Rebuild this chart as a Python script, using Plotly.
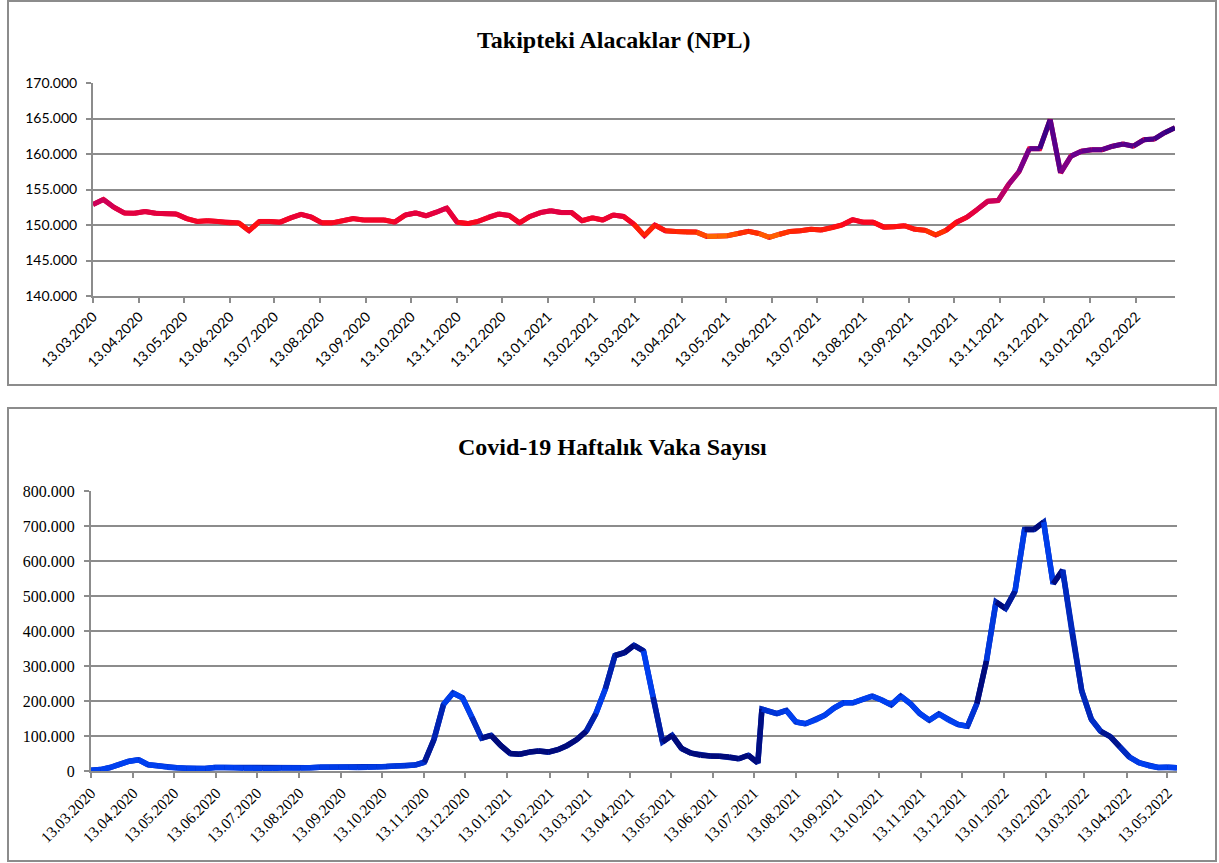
import pandas as pd
import plotly.graph_objects as go

# ---------------- DATA ----------------
# Takipteki Alacaklar (NPL), weekly from 13.03.2020
npl_values = [
    152900, 153600, 152500, 151700, 151650, 151900, 151650, 151600, 151550, 150900,
    150500, 150600, 150500, 150300, 150300, 149200, 150500, 150500, 150400, 151000,
    151500, 151100, 150300, 150300, 150600, 150900, 150700, 150700, 150700, 150400,
    151400, 151700, 151300, 151800, 152400, 150400, 150200,
    150500, 151100, 151550, 151350, 150300, 151200, 151750, 152000, 151750, 151750,
    150600, 151000, 150700, 151400, 151200, 150100, 148500, 150000, 149200, 149100,
    149000, 149000, 148400, 148400, 148500, 148800, 149100, 148800, 148250, 148700,
    149100, 149200, 149400, 149300, 149600,
    150000, 150750, 150400, 150400, 149700, 149750, 149900, 149400, 149250, 148600,
    149250, 150400, 151100, 152200, 153350, 153450, 155700, 157500, 160750, 160750,
    164850, 157350, 159700, 160400, 160600, 160600, 161100, 161400, 161100, 162000,
    162100, 163000, 163700,
]
npl_start = "2020-03-13"

# Covid-19 weekly cases
covid_part1_start = "2020-03-13"   # weekly
covid_part1 = [
    2000, 4000, 10000, 19000, 28000, 32000, 18000, 15000, 11000, 9000,
    8000, 7000, 7000, 10000, 10000, 9500, 8000, 8000, 7000, 7000,
    8500, 8500, 8500, 9500, 11000, 11000, 11000, 11000, 10000, 10500,
    11500, 13000, 14000, 15000, 17000, 25000,
    90000, 190000, 223000, 209000, 154000, 94000, 102000, 73000, 50000, 48000,
    54000, 57000, 54000, 61000, 73000, 90000, 114000, 164000, 235000, 330000,
    338000, 359000, 343000, 211000, 83000, 102000, 64000, 51000, 45000, 43000,
    42000, 40000, 35000, 45000, 23000,
]
covid_extra_date = "2021-07-19"
covid_extra = [177000]
covid_part2_start = "2021-07-23"   # weekly
covid_part2 = [
    172000, 164000, 173000, 140000, 135000, 145000, 159000, 180000,
    195000, 195000, 205000, 214000, 203000, 189000, 214000, 193000, 164000, 145000,
    163000, 146000, 133000, 128000,
    193000, 315000, 483000, 464000, 514000, 690000, 690000, 711000, 535000, 574000,
    392000, 229000, 148000, 113000, 98000, 69000, 40000, 24000, 15000, 10000,
    11000, 9000,
]

top_title = "Takipteki Alacaklar (NPL)"
bottom_title = "Covid-19 Haftalık Vaka Sayısı"

# ---------------- STYLE (gradient stops) ----------------
# NPL line: colour by value
npl_stops = [(148200, "#ff7a00"), (149000, "#ff2a00"), (150000, "#ff0a14"),
             (151500, "#e6003c"), (153500, "#c8005c"), (156500, "#9c007c"),
             (160000, "#6a008e"), (162500, "#420088"), (165000, "#14007a")]
# Covid line: gradient along the path (cumulative vertical travel, in cases)
B, D = "#0040f0", "#000a7a"
covid_stops = [(0, B), (60000, B), (130000, D), (270000, B), (350000, B), (420000, D),
               (530000, D), (620000, B), (780000, D), (870000, B), (1070000, D),
               (1250000, D), (1370000, B), (1650000, B), (1770000, D), (1900000, B),
               (2010000, D), (2150000, B), (2255000, D), (2350000, B), (2460000, D),
               (2655000, B), (2820000, D), (2907000, B), (2960000, D), (3030000, B)]

# ---------------- BUILD ----------------
npl_dates = list(pd.date_range(npl_start, periods=len(npl_values), freq="7D"))
covid_dates = (list(pd.date_range(covid_part1_start, periods=len(covid_part1), freq="7D"))
               + [pd.Timestamp(covid_extra_date)]
               + list(pd.date_range(covid_part2_start, periods=len(covid_part2), freq="7D")))
covid_values = covid_part1 + covid_extra + covid_part2

top_ticks = [pd.Timestamp(npl_start) + pd.DateOffset(months=k) for k in range(24)]
bot_ticks = [pd.Timestamp(covid_part1_start) + pd.DateOffset(months=k) for k in range(27)]


def hex2rgb(h):
    h = h.lstrip("#")
    return tuple(int(h[i:i + 2], 16) for i in (0, 2, 4))


def mix(c1, c2, t):
    a, b = hex2rgb(c1), hex2rgb(c2)
    return "rgb(%d,%d,%d)" % tuple(round(a[i] + (b[i] - a[i]) * t) for i in range(3))


def scale_color(stops, v):
    if v <= stops[0][0]:
        return mix(stops[0][1], stops[0][1], 0)
    for (v0, c0), (v1, c1) in zip(stops[:-1], stops[1:]):
        if v <= v1:
            return mix(c0, c1, (v - v0) / (v1 - v0))
    return mix(stops[-1][1], stops[-1][1], 0)


fig = go.Figure()

# top: base line then coloured segments
fig.add_trace(go.Scatter(x=npl_dates, y=npl_values, mode="lines",
                         line=dict(color="#e6003c", width=5), hoverinfo="skip",
                         showlegend=False, xaxis="x", yaxis="y"))
for i in range(len(npl_values) - 1):
    c = scale_color(npl_stops, (npl_values[i] + npl_values[i + 1]) / 2)
    fig.add_trace(go.Scatter(x=npl_dates[i:i + 2], y=npl_values[i:i + 2], mode="lines",
                             line=dict(color=c, width=5), hoverinfo="skip",
                             showlegend=False, xaxis="x", yaxis="y"))

# bottom
fig.add_trace(go.Scatter(x=covid_dates, y=covid_values, mode="lines",
                         line=dict(color="#0028b8", width=5.5), hoverinfo="skip",
                         showlegend=False, xaxis="x2", yaxis="y2"))
s = 0.0
for i in range(len(covid_values) - 1):
    ds = abs(covid_values[i + 1] - covid_values[i])
    c = scale_color(covid_stops, s + ds / 2)
    s += ds
    fig.add_trace(go.Scatter(x=covid_dates[i:i + 2], y=covid_values[i:i + 2], mode="lines",
                             line=dict(color=c, width=5.5), hoverinfo="skip",
                             showlegend=False, xaxis="x2", yaxis="y2"))

W, H = 1219, 863
GRID = "#8c8c8c"


def px_x(p):
    return p / W


def px_y(p):
    return 1 - p / H


sans = dict(family="Lato, Liberation Sans, sans-serif", size=14, color="black")
serif = dict(family="Liberation Serif, Times New Roman, serif", size=15.5, color="black")

common_x = dict(type="date", showline=True, linecolor=GRID, linewidth=2, ticks="outside",
                ticklen=5, tickcolor=GRID, tickwidth=2, showgrid=False, tickangle=-45,
                zeroline=False, automargin=False)
common_y = dict(showline=True, linecolor=GRID, linewidth=2, ticks="outside", ticklen=5,
                tickcolor=GRID, tickwidth=2, showgrid=True, gridcolor=GRID, gridwidth=2,
                zeroline=False, tickformat=",d", ticklabelstandoff=6, automargin=False)

title_font = dict(family="Liberation Serif, Times New Roman, serif", size=24, color="black")

fig.update_layout(
    width=W, height=H, margin=dict(l=0, r=0, t=0, b=0, pad=0, autoexpand=False),
    paper_bgcolor="white", plot_bgcolor="white", separators=",.", showlegend=False,
    xaxis=dict(common_x, domain=[px_x(93), px_x(1175)], anchor="y",
               range=[npl_dates[0], npl_dates[-1]], tickvals=top_ticks,
               ticktext=[t.strftime("%d.%m.%Y") for t in top_ticks], tickfont=sans),
    yaxis=dict(common_y, domain=[px_y(296), px_y(83)], anchor="x",
               range=[140000, 170000], dtick=5000, tickfont=sans),
    xaxis2=dict(common_x, domain=[px_x(91), px_x(1177)], anchor="y2",
                range=[covid_dates[0], covid_dates[-1]], tickvals=bot_ticks,
                ticktext=[t.strftime("%d.%m.%Y") for t in bot_ticks], tickfont=serif),
    yaxis2=dict(common_y, domain=[px_y(771), px_y(491)], anchor="x2",
                range=[0, 800000], dtick=100000, tickfont=dict(serif, size=16)),
    shapes=[
        dict(type="rect", xref="paper", yref="paper", x0=px_x(8), x1=px_x(1216),
             y0=px_y(385), y1=px_y(1), line=dict(color=GRID, width=2)),
        dict(type="rect", xref="paper", yref="paper", x0=px_x(8), x1=px_x(1216),
             y0=px_y(861), y1=px_y(408), line=dict(color=GRID, width=2)),
    ],
    annotations=[
        dict(text="<b>%s</b>" % top_title, xref="paper", yref="paper", x=px_x(613),
             y=px_y(40), showarrow=False, xanchor="center", yanchor="middle",
             font=title_font),
        dict(text="<b>%s</b>" % bottom_title, xref="paper", yref="paper", x=px_x(612),
             y=px_y(447), showarrow=False, xanchor="center", yanchor="middle",
             font=title_font),
    ],
)

fig.write_html("out.html", config={"displayModeBar": False},
               post_script="document.body.style.margin='0px';document.body.style.padding='0px';")
